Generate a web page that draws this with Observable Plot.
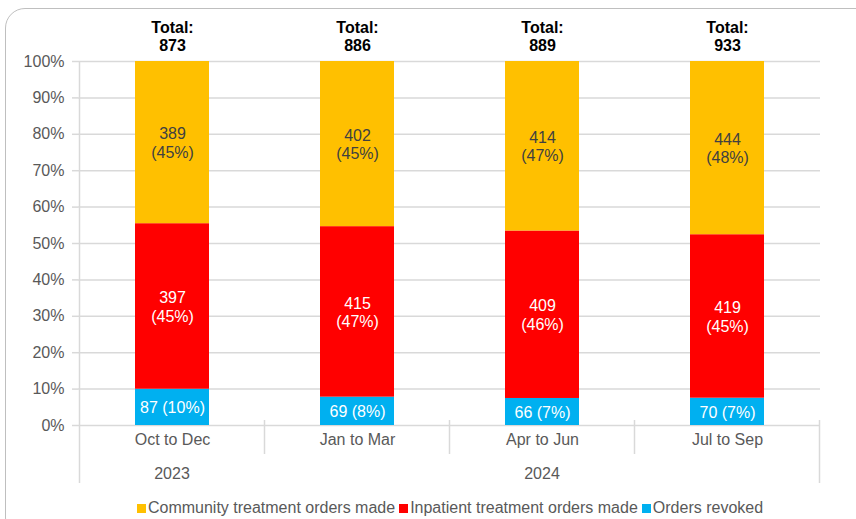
<!DOCTYPE html>
<html><head><meta charset="utf-8">
<script src="https://cdn.jsdelivr.net/npm/d3@7"></script>
<script src="https://cdn.jsdelivr.net/npm/@observablehq/plot@0.6"></script>
<style>
body{margin:0;background:#fff;font-family:"Liberation Sans",Arial,sans-serif;}
#wrap{position:relative;width:856px;height:519px;overflow:hidden;background:#fff;}
#frame{position:absolute;left:5px;top:8px;width:880px;height:530px;border:1px solid #bfbfbf;border-radius:20px;box-sizing:border-box;}
#chart{position:absolute;left:0;top:0;}
#legend{position:absolute;left:0;top:499px;width:856px;text-align:center;font-size:16px;color:#595959;white-space:nowrap;padding-left:44px;box-sizing:border-box;}
#legend .it{display:inline-block;margin:0 2px;}
#legend .sw{display:inline-block;width:9px;height:9px;margin-right:2px;vertical-align:0px;}
</style></head>
<body><div id="wrap"><div id="frame"></div><div id="chart"></div><div id="legend"></div></div>
<script>
const quarters = ["Oct to Dec","Jan to Mar","Apr to Jun","Jul to Sep"];
const years = ["2023","2024","2024","2024"];
const series = ["Community treatment orders made","Inpatient treatment orders made","Orders revoked"];
const colors = ["#FFC000","#FF0000","#00B0F0"];
const community = [389,402,414,444];
const communityPct = ["45%","45%","47%","48%"];
const inpatient = [397,415,409,419];
const inpatientPct = ["45%","47%","46%","45%"];
const revoked = [87,69,66,70];
const revokedPct = ["10%","8%","7%","7%"];
const totals = [873,886,889,933];
const yTicks = [0,0.1,0.2,0.3,0.4,0.5,0.6,0.7,0.8,0.9,1];

const rows = [];
quarters.forEach((q,i)=>{
  rows.push({quarter:q, series:series[2], value:revoked[i], label:`${revoked[i]} (${revokedPct[i]})`});
  rows.push({quarter:q, series:series[1], value:inpatient[i], label:`${inpatient[i]}\n(${inpatientPct[i]})`});
  rows.push({quarter:q, series:series[0], value:community[i], label:`${community[i]}\n(${communityPct[i]})`});
});
const totalRows = quarters.map((q,i)=>({quarter:q, total:totals[i]}));
const stackOrder = [series[2],series[1],series[0]];

const plot = Plot.plot({
  width: 856, height: 497,
  marginLeft: 78, marginRight: 36, marginTop: 61, marginBottom: 72,
  style: {fontFamily:"'Liberation Sans', Arial, sans-serif", fontSize:"16px", color:"#595959", background:"transparent"},
  x: {domain: quarters, paddingInner: 0.6, paddingOuter: 0.3, label: null},
  y: {domain: [0,1], label: null},
  color: {domain: series, range: colors},
  marks: [
    Plot.gridY({ticks: yTicks, stroke:"#d9d9d9", strokeOpacity:1, strokeWidth:1.5}),
    Plot.barY(rows, Plot.stackY({x:"quarter", y:"value", z:"series", fill:"series", offset:"normalize", order: stackOrder})),
    Plot.text(rows, Plot.stackY({x:"quarter", y:"value", z:"series", offset:"normalize", order: stackOrder, text:"label",
      fill: d => d.series === series[0] ? "#404040" : "#ffffff", lineHeight: 1.15, fontSize: 16})),
    Plot.text(totalRows, {x:"quarter", y: () => 1, text: d => `Total:\n${d.total}`, lineAnchor:"bottom", dy:-10.5,
      fontWeight:"bold", fontSize:16, fill:"#000000", lineHeight:1.12}),
    Plot.axisY({ticks: yTicks, tickFormat: d3.format(".0%"), tickSize: 6, tickPadding: 8, stroke:"#d9d9d9", strokeWidth:1.5, fill:"#595959", label:null}),
    Plot.axisX({tickSize: 0, tickPadding: 8, fill:"#595959", label:null})
  ]
});
document.getElementById("chart").appendChild(plot);

// category-axis decorations drawn from the x and y scales
const xs = plot.scale("x"), ys = plot.scale("y");
const svg = d3.select(plot);
const step = xs.step, bw = xs.bandwidth;
const centers = quarters.map(q => xs.apply(q) + bw/2);
const y0 = ys.apply(0), yTop = ys.apply(1);
const g = svg.append("g").attr("stroke","#d9d9d9").attr("stroke-width",1.5);
const left = centers[0] - step/2, right = centers[centers.length-1] + step/2;
const groupBottom = y0 + 58, rowBottom = y0 + 29;
g.append("line").attr("x1",left).attr("x2",left).attr("y1",yTop).attr("y2",groupBottom);
g.append("line").attr("x1",right).attr("x2",right).attr("y1",y0-5).attr("y2",groupBottom);
for (let i = 1; i < quarters.length; i++) {
  const b = centers[i] - step/2;
  g.append("line").attr("x1",b).attr("x2",b).attr("y1",y0-5).attr("y2",rowBottom);
}
// year labels
const yearGroups = d3.groups(quarters.map((q,i)=>({c:centers[i], y:years[i]})), d=>d.y);
yearGroups.forEach(([yr, items])=>{
  const cx = (d3.min(items,d=>d.c) + d3.max(items,d=>d.c))/2;
  svg.append("text").attr("x",cx).attr("y",y0+54).attr("text-anchor","middle")
    .attr("fill","#595959").attr("font-size",16).text(yr);
});

// legend
const leg = d3.select("#legend");
series.forEach((s,i)=>{
  const it = leg.append("span").attr("class","it");
  it.append("span").attr("class","sw").style("background",colors[i]);
  it.append("span").text(s);
});
</script></body></html>
